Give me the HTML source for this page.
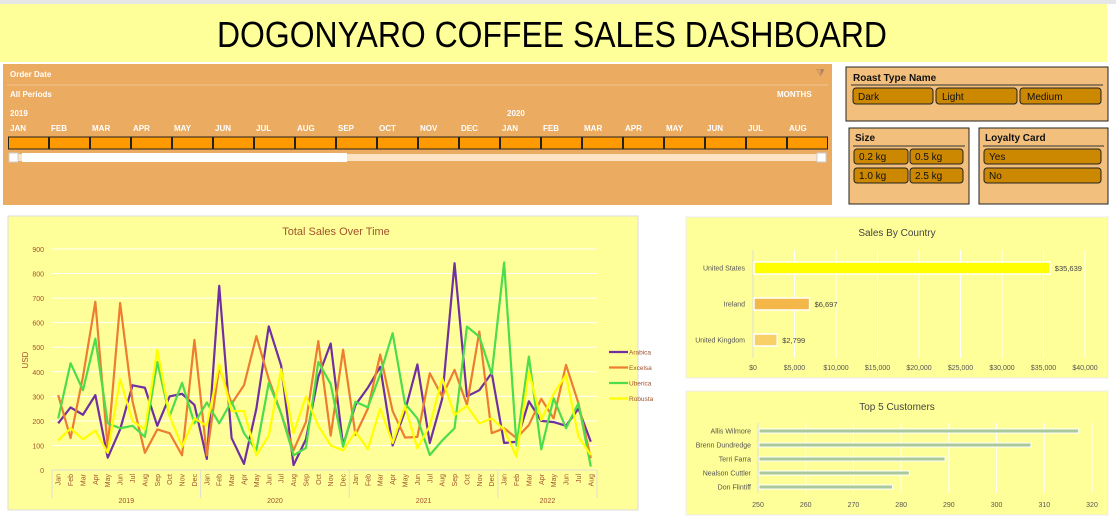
<!DOCTYPE html>
<html><head><meta charset="utf-8"><style>
body{margin:0;background:#fff;width:1116px;height:520px;overflow:hidden;font-family:"Liberation Sans",sans-serif}
svg text{font-family:"Liberation Sans",sans-serif}
</style></head><body>
<svg id="s" width="1116" height="520" xmlns="http://www.w3.org/2000/svg">
<rect x="0" y="0" width="1116" height="4" fill="#e6e6e6"/>
<rect x="0" y="4" width="1107" height="58" fill="#ffff99"/>
<text x="552" y="47" text-anchor="middle" font-size="36" textLength="670" lengthAdjust="spacingAndGlyphs" fill="#000">DOGONYARO COFFEE SALES DASHBOARD</text>

<g>
<rect x="3" y="64" width="829" height="141" fill="#ebab60"/>
<text x="10" y="77" font-size="8" font-weight="bold" fill="#fff">Order Date</text>
<line x1="7" y1="85" x2="828" y2="85" stroke="#f3c690" stroke-width="1"/>
<text x="10" y="97" font-size="8" font-weight="bold" fill="#fff">All Periods</text>
<text x="777" y="97" font-size="8" font-weight="bold" fill="#fff">MONTHS</text>
<text x="816" y="76" font-size="10" fill="#b08060">⧩</text>
<text x="10" y="116" font-size="8" font-weight="bold" fill="#fff">2019</text>
<text x="507" y="116" font-size="8" font-weight="bold" fill="#fff">2020</text>
<g id="tl"></g>
<rect x="9" y="154" width="817" height="7" fill="#fbe3c4"/>
<rect x="22" y="153" width="325" height="9" fill="#fff"/>
<rect x="9" y="153" width="9" height="9" fill="#fff" stroke="#ccc"/>
<rect x="817" y="153" width="9" height="9" fill="#fff" stroke="#ccc"/>
</g>

<g>
<rect x="846" y="67" width="262" height="54" fill="#f2c07c" stroke="#222"/>
<text x="853" y="81" font-size="10" font-weight="bold" fill="#111">Roast Type Name</text>
<line x1="851" y1="85" x2="1103" y2="85" stroke="#333"/>
<rect x="853" y="88" width="80" height="16" rx="3" fill="#cc8800" stroke="#222"/><text x="858" y="100" font-size="10" fill="#111">Dark</text>
<rect x="936" y="88" width="81" height="16" rx="3" fill="#cc8800" stroke="#222"/><text x="942" y="100" font-size="10" fill="#111">Light</text>
<rect x="1020" y="88" width="81" height="16" rx="3" fill="#cc8800" stroke="#222"/><text x="1027" y="100" font-size="10" fill="#111">Medium</text>
</g>
<g>
<rect x="849" y="128" width="120" height="76" fill="#f2c07c" stroke="#222"/>
<text x="855" y="141" font-size="10" font-weight="bold" fill="#111">Size</text>
<line x1="853" y1="146" x2="965" y2="146" stroke="#333"/>
<rect x="854" y="149" width="54" height="15" rx="3" fill="#cc8800" stroke="#222"/><text x="859" y="160" font-size="10" fill="#111">0.2 kg</text>
<rect x="910" y="149" width="53" height="15" rx="3" fill="#cc8800" stroke="#222"/><text x="915" y="160" font-size="10" fill="#111">0.5 kg</text>
<rect x="854" y="168" width="54" height="15" rx="3" fill="#cc8800" stroke="#222"/><text x="859" y="179" font-size="10" fill="#111">1.0 kg</text>
<rect x="910" y="168" width="53" height="15" rx="3" fill="#cc8800" stroke="#222"/><text x="915" y="179" font-size="10" fill="#111">2.5 kg</text>
</g>
<g>
<rect x="979" y="128" width="129" height="76" fill="#f2c07c" stroke="#222"/>
<text x="985" y="141" font-size="10" font-weight="bold" fill="#111">Loyalty Card</text>
<line x1="983" y1="146" x2="1104" y2="146" stroke="#333"/>
<rect x="984" y="149" width="117" height="15" rx="3" fill="#cc8800" stroke="#222"/><text x="989" y="160" font-size="10" fill="#111">Yes</text>
<rect x="984" y="168" width="117" height="15" rx="3" fill="#cc8800" stroke="#222"/><text x="989" y="179" font-size="10" fill="#111">No</text>
</g>

<g>
<rect x="8" y="216" width="630" height="294" fill="#ffff99" stroke="#ddd"/>
<text x="336" y="235" text-anchor="middle" font-size="11" fill="#a0522d">Total Sales Over Time</text>
<text transform="translate(28,360) rotate(-90)" text-anchor="middle" font-size="8" fill="#a0522d">USD</text>
<g id="lc"></g>
</g>

<g>
<rect x="686" y="217" width="422" height="161" fill="#ffff99" stroke="#eee"/>
<text x="897" y="236" text-anchor="middle" font-size="10" fill="#444">Sales By Country</text>
<g id="cc"></g>
</g>

<g>
<rect x="686" y="391" width="422" height="124" fill="#ffff99" stroke="#eee"/>
<text x="897" y="410" text-anchor="middle" font-size="10" fill="#444">Top 5 Customers</text>
<g id="tc"></g>
</g>
</svg>
<script>
const NS="http://www.w3.org/2000/svg";
function mk(p,t,a,txt){const e=document.createElementNS(NS,t);for(const k in a)e.setAttribute(k,a[k]);if(txt!==undefined)e.textContent=txt;p.appendChild(e);return e;}

// timeline
const tlMonths=["JAN","FEB","MAR","APR","MAY","JUN","JUL","AUG","SEP","OCT","NOV","DEC","JAN","FEB","MAR","APR","MAY","JUN","JUL","AUG"];
const tl=document.getElementById('tl');
tlMonths.forEach((m,i)=>{const x=8+i*41;
 const t=mk(tl,'text',{x:x+2,y:131,'font-size':8,'font-weight':'bold',fill:'#fff'},m);
 
 
 const r=mk(tl,'rect',{x:x+0.5,y:137,width:40,height:12,fill:'#ff9900',stroke:'#222'});
 
 
});

// line chart data
const months=["Jan","Feb","Mar","Apr","May","Jun","Jul","Aug","Sep","Oct","Nov","Dec"];
const years=["2019","2020","2021","2022"];
const yTicks=[0,100,200,300,400,500,600,700,800,900];
const arabica=[190,255,225,305,50,165,345,335,180,300,310,265, 45,750,130,25,250,585,425,20,125,380,515,100, 265,335,420,100,240,430,110,290,842,300,325,395, 110,115,280,200,195,180,250,115];
const excelsa=[305,130,380,685,90,680,280,70,165,150,60,530, 60,420,270,345,545,370,230,80,195,525,140,490, 143,250,470,240,132,135,394,300,408,265,564,150, 170,130,183,290,210,428,272,48];
const uberica=[210,435,325,535,190,170,180,135,440,220,355,190, 275,190,280,150,80,355,230,60,90,440,350,95, 278,255,390,557,270,210,61,120,170,584,543,390, 845,100,462,84,292,170,272,14];
const robusta=[120,170,125,160,70,370,200,165,490,220,95,210, 180,430,240,240,60,140,410,150,300,180,100,80, 156,85,251,110,260,88,180,373,224,261,190,210, 165,54,401,204,310,387,136,61];
const seriesNames=["Arabica","Excelsa","Uberica","Robusta"];
const seriesColors=["#7030a0","#ed7d31","#4cdc4c","#ffff00"];
const seriesData=[arabica,excelsa,uberica,robusta];
const lc=document.getElementById('lc');
const X0=52,X1=597,Y0=470,Y1=249,N=arabica.length;
const cw=(X1-X0)/N;
const xs=i=>X0+cw*(i+0.5);
const ys=v=>Y0-(v/900)*(Y0-Y1);
yTicks.forEach(v=>{
 if(v>0){const g=mk(lc,'line',{x1:X0,x2:X1,y1:ys(v),y2:ys(v),stroke:'#fff','stroke-width':1});
 }
 const t=mk(lc,'text',{x:44,y:ys(v)+3,'text-anchor':'end','font-size':7,fill:'#a0522d'},v);
 
 
});
mk(lc,'line',{x1:X0,x2:X1,y1:Y0,y2:Y0,stroke:'#ddd'});
for(let i=0;i<N;i++){
 const t=mk(lc,'text',{transform:`translate(${xs(i)+2.5},${Y0+4}) rotate(-90)`,'text-anchor':'end','font-size':7,fill:'#a0522d'},months[i%12]);
 
 
}
for(let k=0;k<=years.length;k++){const xx=Math.min(X0+k*12*cw,X1);
 mk(lc,'line',{x1:xx,x2:xx,y1:Y0,y2:Y0+28,stroke:'#ddd'});}
years.forEach((y,k)=>{const a=X0+k*12*cw,b=Math.min(X0+(k+1)*12*cw,X1);
 const t=mk(lc,'text',{x:(a+b)/2,y:Y0+33,'text-anchor':'middle','font-size':7,fill:'#a0522d'},y);
 
 
});
seriesData.forEach((d,s)=>{
 const p=mk(lc,'polyline',{points:d.map((v,i)=>xs(i)+','+ys(v)).join(' '),fill:'none',stroke:seriesColors[s],'stroke-width':2.2,'stroke-linejoin':'round'});
 
 
 const ly=352+s*15.5;
 mk(lc,'line',{x1:609,x2:628,y1:ly,y2:ly,stroke:seriesColors[s],'stroke-width':2.2});
 const t=mk(lc,'text',{x:629,y:ly+2.5,'font-size':6.5,fill:'#a0522d'},seriesNames[s]);
 
 
});

// country chart
const countries=["United States","Ireland","United Kingdom"];
const countrySales=[35639,6697,2799];
const countryTicks=[0,5000,10000,15000,20000,25000,30000,35000,40000];
const countryColors=["#ffff00","#f4b84a","#f9d068"];
const cc=document.getElementById('cc');
const cx=v=>753+v/40000*(1085-753);
countryTicks.forEach(v=>{
 const g=mk(cc,'line',{x1:cx(v),x2:cx(v),y1:250,y2:358,stroke:v===0?'#ddd':'#fff'});
 
 const t=mk(cc,'text',{x:cx(v),y:370,'text-anchor':'middle','font-size':7,fill:'#555'},'$'+v.toLocaleString('en-US'));
 
 
});
countries.forEach((c,i)=>{const y=268+i*36;
 const r=mk(cc,'rect',{x:cx(0)+1,y:y-6,width:cx(countrySales[i])-cx(0),height:12,fill:countryColors[i],stroke:'#fff','stroke-width':1.5});
 
 
 const t=mk(cc,'text',{x:745,y:y+2.5,'text-anchor':'end','font-size':7,fill:'#555'},c);
 
 
 const v=mk(cc,'text',{x:cx(countrySales[i])+6,y:y+3,'font-size':7.5,fill:'#444'},'$'+countrySales[i].toLocaleString('en-US'));
 
 
});

// customers chart
const customers=["Allis Wilmore","Brenn Dundredge","Terri Farra","Nealson Cuttler","Don Flintiff"];
const customerSales=[317,307,289,281.5,278];
const custTicks=[250,260,270,280,290,300,310,320];
const tc=document.getElementById('tc');
const tx=v=>758+(v-250)/70*(1092-758);
custTicks.forEach(v=>{
 const g=mk(tc,'line',{x1:tx(v),x2:tx(v),y1:423,y2:493,stroke:v===250?'#ddd':'#fff'});
 
 const t=mk(tc,'text',{x:tx(v),y:507,'text-anchor':'middle','font-size':7,fill:'#555'},v);
 
 
});
customers.forEach((c,i)=>{const y=431+i*14;
 const r=mk(tc,'rect',{x:tx(250)+1,y:y-2,width:tx(customerSales[i])-tx(250),height:4,fill:'#a9c99a',stroke:'#fff','stroke-width':1});
 
 
 const t=mk(tc,'text',{x:751,y:y+2.5,'text-anchor':'end','font-size':7,fill:'#555'},c);
 
 
});
</script>
</body></html>
